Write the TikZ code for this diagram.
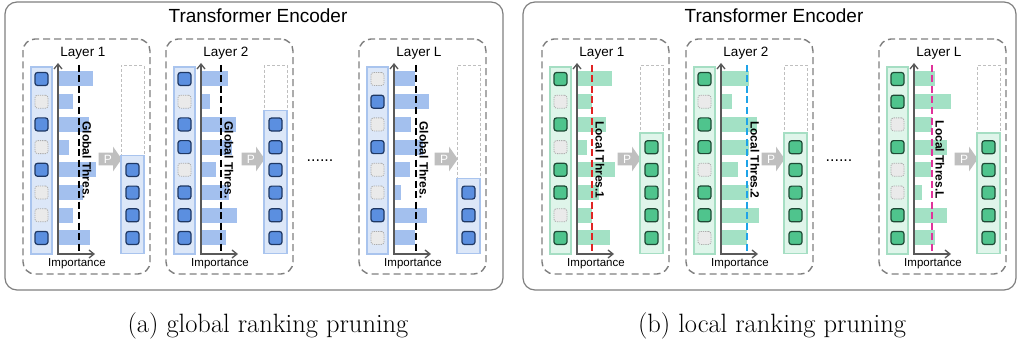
\documentclass[tikz,border=0pt]{standalone}
\usepackage{fontspec}
\newfontfamily\arialFont{Liberation Sans}
\usepackage{tikz}
\usetikzlibrary{arrows.meta,shapes.arrows}

\definecolor{tokBlue}{HTML}{5B8FE0}
\definecolor{edgeBlue}{HTML}{1F3864}
\definecolor{colBlue}{HTML}{DCE7F8}
\definecolor{colBlueEdge}{HTML}{A9C4EE}
\definecolor{barBlue}{HTML}{A3C0EE}
\definecolor{tokGreen}{HTML}{4FC48D}
\definecolor{edgeGreen}{HTML}{1E4A35}
\definecolor{colGreen}{HTML}{DFF5EA}
\definecolor{colGreenEdge}{HTML}{A5DEC3}
\definecolor{barGreen}{HTML}{A3E1C5}
\definecolor{boxGray}{HTML}{7F7F7F}
\definecolor{dropFill}{HTML}{EAEAEA}
\definecolor{dropEdge}{HTML}{ABABAB}
\definecolor{arrowGray}{HTML}{BFBFBF}
\definecolor{axisGray}{HTML}{595959}
\definecolor{thresRed}{HTML}{E02424}
\definecolor{thresCyan}{HTML}{1FA3E8}
\definecolor{thresPink}{HTML}{E0339B}

\tikzset{
     encBox/.style =
        { rectangle
        , rounded corners=12pt
        , draw=boxGray
        , line width=1.2pt
        }
   , encTitle/.style =
        { anchor=base
        , font=\arialFont\fontsize{19}{22}\selectfont
        }
   , layerBox/.style =
        { rectangle
        , rounded corners=12pt
        , draw=boxGray
        , dash pattern=on 7pt off 4pt
        , line width=1.4pt
        , minimum width=127pt
        , minimum height=235pt
        }
   , layerTitle/.style =
        { anchor=base
        , font=\arialFont\fontsize{13.5}{16}\selectfont
        }
   , axisName/.style =
        { anchor=base
        , font=\arialFont\fontsize{11.5}{14}\selectfont
        }
   , tokNode/.style =
        { rectangle
        , rounded corners=2.5pt
        , minimum size=13pt
        , inner sep=0pt
        , line width=1.2pt
        }
   , dropTok/.style =
        { tokNode
        , fill=dropFill
        , draw=dropEdge
        , densely dotted
        , line width=0.8pt
        }
   , barNode/.style =
        { rectangle
        , minimum height=15pt
        , inner sep=0pt
        , anchor=west
        }
   , emptyBox/.style =
        { rectangle
        , draw=gray!50
        , dash pattern=on 3pt off 2pt
        , line width=1pt
        , minimum width=23pt
        , inner sep=0pt
        , anchor=south
        }
   , axisLine/.style =
        { <->
        , draw=axisGray
        , line width=1.3pt
        }
   , thresLine/.style =
        { dash pattern=on 7pt off 3.5pt
        , line width=1.5pt
        }
   , thresText/.style =
        { rotate=-90
        , font=\arialFont\bfseries\fontsize{12}{14}\selectfont
        }
   , pArrow/.style =
        { single arrow
        , fill=arrowGray
        , text=white
        , font=\arialFont\fontsize{12}{14}\selectfont
        , minimum height=23pt
        , minimum width=22pt
        , inner xsep=1pt
        , inner ysep=2pt
        , single arrow head extend=6pt
        , single arrow tip angle=110
        }
   , dotsNode/.style =
        { anchor=base
        , font=\arialFont\fontsize{16}{18}\selectfont
        }
   , captionNode/.style =
        { anchor=base
        , font=\fontsize{26.5}{30}\selectfont
        }
   , blueSide/.style =
        { keepTok/.style = {tokNode, fill=tokBlue, draw=edgeBlue}
        , colBox/.style = {rectangle, inner sep=0pt, fill=colBlue, draw=colBlueEdge, line width=1.2pt}
        , impBar/.style = {barNode, fill=barBlue}
        }
   , greenSide/.style =
        { keepTok/.style = {tokNode, fill=tokGreen, draw=edgeGreen}
        , colBox/.style = {rectangle, inner sep=0pt, fill=colGreen, draw=colGreenEdge, line width=1.2pt}
        , impBar/.style = {barNode, fill=barGreen}
        }
}

% #1 name, #2 left edge, #3 title, #4 keep/length of each token,
% #5 threshold, #6 threshold text, #7 tokens kept, #8 threshold colour
\newcommand{\pruneLayer}[8]{%
  \node[layerBox] (#1) at (#2+63.5,156.5) {};
  \node[layerTitle] (#1title) at (#2+60,56.5) {#3};
  \node[colBox, minimum width=21pt, minimum height=187pt] (#1in) at (#2+18.5,160.5) {};
  \foreach \k/\barLen [count=\i] in {#4} {
    \pgfmathsetmacro{\ty}{79+22.7*(\i-1)}
    \ifnum\k=1
      \node[keepTok] (#1t\i) at (#2+18.5,\ty) {};
    \else
      \node[dropTok] (#1t\i) at (#2+18.5,\ty) {};
    \fi
    \node[impBar, minimum width=\barLen pt] (#1b\i) at (#2+36,\ty) {};
  }
  \coordinate (#1org) at (#2+35,254);
  \coordinate (#1ytop) at (#2+35,63);
  \coordinate (#1xend) at (#2+72,254);
  \draw[axisLine] (#1ytop) -- (#1org) -- (#1xend);
  \coordinate (#1thT) at (#2+35+#5,65);
  \coordinate (#1thB) at (#2+35+#5,254);
  \draw[thresLine, draw=#8] (#1thT) -- (#1thB);
  \node[thresText] (#1thText) at (#2+43+#5,160) {#6};
  \node[axisName] (#1imp) at (#2+54,266.5) {Importance};
  \node[pArrow] (#1p) at (#2+85,159) {P};
  \pgfmathsetmacro{\colTop}{247-22.7*#7}
  \pgfmathsetmacro{\outH}{254-\colTop}
  \pgfmathsetmacro{\emptyH}{\colTop-66}
  \node[emptyBox, minimum height=\emptyH pt] (#1empty) at (#2+109.5,\colTop) {};
  \node[colBox, anchor=south, minimum width=23pt, minimum height=\outH pt] (#1out) at (#2+109.5,254) {};
  \foreach \j in {1,...,#7} {
    \node[keepTok] (#1o\j) at (#2+109.5,238-22.7*\j+22.7) {};
  }
}

\begin{document}
\begin{tikzpicture}
   [ x=1pt
   , y=-1pt
   , >={Straight Barb[length=5pt,width=8pt]}
   ]
\useasboundingbox (0,0) rectangle (1021,345);

% (a) global ranking
\node[encBox, minimum width=498pt, minimum height=288pt] (encA) at (254,146) {};
\node[encTitle] (encAtitle) at (258,23) {Transformer Encoder};
\begin{scope}[blueSide]
  \pruneLayer{gOne}{23}{Layer 1}{1/34,0/14,1/30,0/10,1/37,0/24,0/14,1/31}{21}{Global Thres.}{4}{black}
  \pruneLayer{gTwo}{166}{Layer 2}{1/26,0/8,1/34,1/30,0/14,1/27,1/35,1/24}{20}{Global Thres.}{6}{black}
  \pruneLayer{gL}{359}{Layer L}{0/20,1/34,0/16,1/28,0/15,0/6,1/32,0/20}{22}{Global Thres.}{3}{black}
\end{scope}
\node[dotsNode] (dotsA) at (320,161) {......};
\node[captionNode] (capA) at (268,332) {(a) global ranking pruning};

% (b) local ranking
\node[encBox, minimum width=493pt, minimum height=288pt] (encB) at (769.5,146) {};
\node[encTitle] (encBtitle) at (774,23) {Transformer Encoder};
\begin{scope}[greenSide]
  \pruneLayer{lOne}{542}{Layer 1}{1/34,0/14,1/28,0/9,1/37,1/21,0/14,1/32}{15}{Local Thres.1}{5}{thresRed}
  \pruneLayer{lTwo}{686}{Layer 2}{1/27,0/10,1/35,1/27,0/16,1/27,1/37,0/25}{26}{Local Thres.2}{5}{thresCyan}
  \pruneLayer{lL}{879}{Layer L}{1/20,1/36,0/17,1/32,0/16,0/7,1/32,1/20}{18}{Local Thres.L}{5}{thresPink}
\end{scope}
\node[dotsNode] (dotsB) at (839,161) {......};
\node[captionNode] (capB) at (772,332) {(b) local ranking pruning};
\end{tikzpicture}
\end{document}
